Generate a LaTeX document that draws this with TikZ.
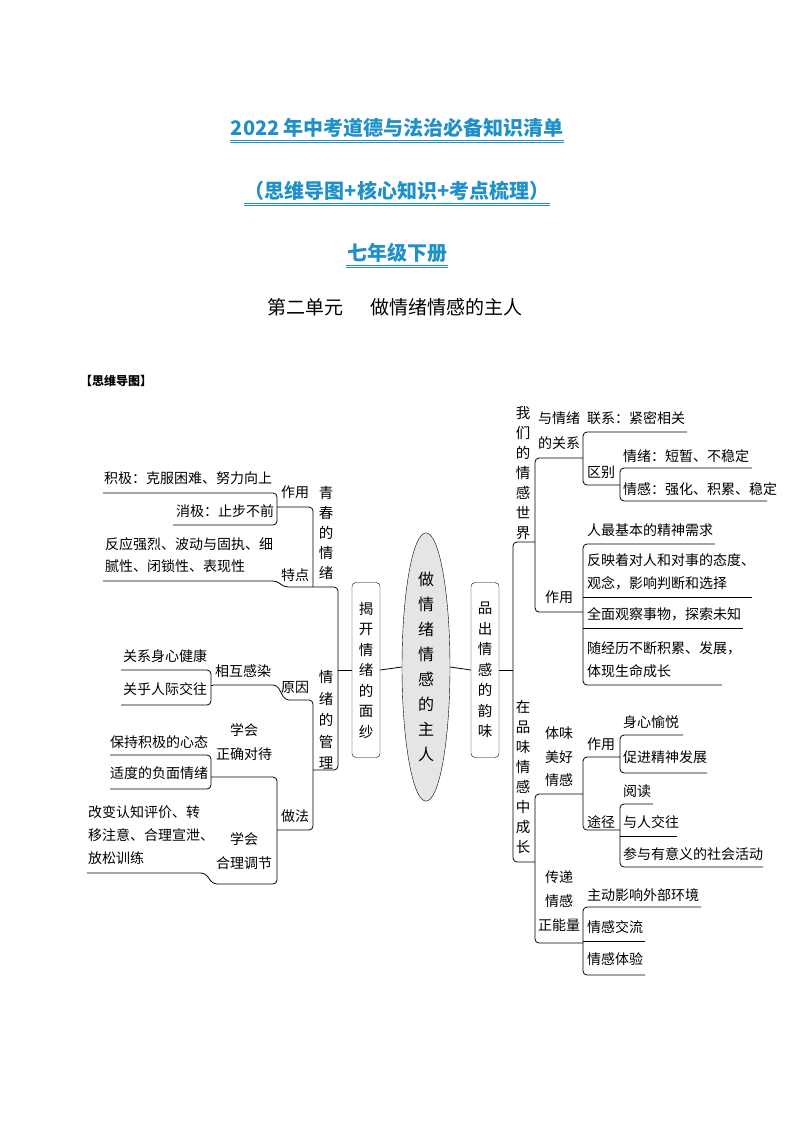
\documentclass[tikz,border=0pt]{standalone}
\usepackage{fontspec}
\setmainfont{Noto Sans CJK SC}
\usetikzlibrary{shapes.geometric}
\definecolor{titleblue}{HTML}{2090C8}
\tikzset{lbl/.style={anchor=west, inner sep=0pt, font=\fontsize{14}{16}\selectfont},
	vtx/.style={align=center, inner sep=0pt, font=\fontsize{14.5}{20}\selectfont},
	box/.style={draw, rounded corners=4pt, minimum width=28pt, minimum height=175pt, align=center, inner sep=0pt, font=\fontsize{14.5}{20.5}\selectfont},
	title/.style={font=\fontsize{20}{22}\selectfont\bfseries, text=titleblue, inner sep=1pt},
	rc/.style={rounded corners=4pt, line width=0.8pt}}
\newcommand{\dul}[1]{\draw[titleblue, line width=0.6pt] ([yshift=-1pt]#1.south west) -- ([yshift=-1pt]#1.south east)
	([yshift=-3pt]#1.south west) -- ([yshift=-3pt]#1.south east);}

\begin{document}
\begin{tikzpicture}[x=1pt, y=-1pt]
	\useasboundingbox (0,0) rectangle (794,1123);
	% headings
	\node[title] (t1) at (397,128) {2022\,年中考道德与法治必备知识清单};
	\node[title] (t2) at (397,191) {（思维导图+核心知识+考点梳理）};
	\node[title] (t3) at (397,253) {七年级下册};
	\dul{t1} \dul{t2} \dul{t3}
	\node[font=\fontsize{19}{20}\selectfont] (t4) at (395,307) {第二单元\hspace{28pt}做情绪情感的主人};
	\node[anchor=west, inner sep=0pt, font=\fontsize{12}{14}\selectfont\bfseries] (mm) at (80,381) {【思维导图】};

	% centre
	\node[draw, ellipse, fill=gray!20, minimum width=48pt, minimum height=262pt, align=center, inner sep=0pt,
		font=\fontsize{16}{25}\selectfont] (ctr) at (426,667) {做\\情\\绪\\情\\感\\的\\主\\人};
	\node[box] (jk) at (366,670) {揭\\开\\情\\绪\\的\\面\\纱};
	\node[box] (pc) at (485,670) {品\\出\\情\\感\\的\\韵\\味};
	\draw[line width=0.8pt] (ctr.west) -- (jk.east) (ctr.east) -- (pc.west);
	\draw[line width=0.8pt] (jk.west) -- (338,670) (pc.east) -- (513,670);

	% left: 揭开情绪的面纱
	\node[vtx] (qc) at (326,533) {青\\春\\的\\情\\绪};
	\node[vtx, font=\fontsize{14.5}{21.5}\selectfont] (gl) at (326,720) {情\\绪\\的\\管\\理};
	\draw[rc] (103,581) -- (277,581) -- (284,587) -- (338,587) -- (338,770) -- (313,770);
	\draw[rc] (277,507) -- (313,507) -- (313,587);
	\draw[rc] (103,493) -- (277,493) -- (277,525) -- (173,525);
	\node[lbl] (zy1) at (281,492) {作用};
	\node[lbl] (jj) at (104,478) {积极：克服困难、努力向上};
	\node[lbl] (xj) at (176,511) {消极：止步不前};
	\node[lbl] (td) at (281,575) {特点};
	\node[lbl] (fy1) at (105,544) {反应强烈、波动与固执、细};
	\node[lbl] (fy2) at (105,566) {腻性、闭锁性、表现性};

	\draw[rc] (213,685) -- (277,685) -- (285,700) -- (313,700) -- (313,830) -- (277,830);
	\draw[rc] (121,670) -- (211,670) -- (211,705) -- (121,705);
	\draw[line width=0.8pt] (211,685) -- (213,685);
	\node[lbl] (yy) at (281,687) {原因};
	\node[lbl] (xh) at (215,671) {相互感染};
	\node[lbl] (gx) at (123,656) {关系身心健康};
	\node[lbl] (gh) at (123,689) {关乎人际交往};
	\draw[rc] (211,777) -- (277,777) -- (277,884) -- (213,884) -- (205,873) -- (87,873);
	\draw[rc] (110,755) -- (211,755) -- (211,789) -- (110,789);
	\node[lbl] (zf) at (281,816) {做法};
	\node[lbl, align=center, anchor=center, font=\fontsize{14}{24}\selectfont] (zq) at (244,742) {学会\\正确对待};
	\node[lbl] (bc) at (110,742) {保持积极的心态};
	\node[lbl] (sd) at (110,773) {适度的负面情绪};
	\node[lbl, align=center, anchor=center, font=\fontsize{14}{24}\selectfont] (hl) at (244,851) {学会\\合理调节};
	\node[lbl] (gb1) at (88,812) {改变认知评价、转};
	\node[lbl] (gb2) at (88,835) {移注意、合理宣泄、};
	\node[lbl] (gb3) at (88,858) {放松训练};

	% right: 品出情感的韵味
	\node[vtx] (sj) at (523,473) {我\\们\\的\\情\\感\\世\\界};
	\node[vtx] (cz) at (523,777) {在\\品\\味\\情\\感\\中\\成\\长};
	\draw[rc] (535,542) -- (513,542) -- (513,862) -- (535,862);
	\draw[rc] (583,458) -- (535,458) -- (535,612) -- (583,612);
	\node[lbl] (gx2a) at (538,418) {与情绪};
	\node[lbl] (gx2b) at (538,443) {的关系};
	\draw[rc] (687,432) -- (583,432) -- (583,485) -- (620,485);
	\node[lbl] (lx) at (587,418) {联系：紧密相关};
	\node[lbl] (qb) at (587,472) {区别};
	\draw[rc] (752,468) -- (620,468) -- (620,501) -- (767,501);
	\node[lbl] (qx) at (623,456) {情绪：短暂、不稳定};
	\node[lbl] (qg) at (623,489) {情感：强化、积累、稳定};
	\node[lbl] (zy2) at (545,597) {作用};
	\draw[rc] (715,544) -- (583,544) -- (583,685) -- (722,685);
	\draw[line width=0.8pt] (583,597) -- (752,597) (583,628) -- (743,628);
	\node[lbl] (jb) at (587,530) {人最基本的精神需求};
	\node[lbl] (fyz1) at (587,560) {反映着对人和对事的态度、};
	\node[lbl] (fyz2) at (587,583) {观念，影响判断和选择};
	\node[lbl] (qm) at (587,614) {全面观察事物，探索未知};
	\node[lbl] (sj1) at (587,648) {随经历不断积累、发展，};
	\node[lbl] (sj2) at (587,671) {体现生命成长};

	\draw[rc] (583,794) -- (535,794) -- (535,943) -- (583,943);
	\node[vtx, font=\fontsize{14}{23.5}\selectfont] (tw) at (559,757) {体味\\美好\\情感};
	\draw[rc] (620,757) -- (583,757) -- (583,830) -- (620,830);
	\node[lbl] (zy3) at (587,744) {作用};
	\draw[rc] (683,735) -- (620,735) -- (620,773) -- (707,773);
	\node[lbl] (sx) at (623,722) {身心愉悦};
	\node[lbl] (cj) at (623,757) {促进精神发展};
	\node[lbl] (tj) at (587,822) {途径};
	\draw[rc] (653,804) -- (620,804) -- (620,867) -- (763,867);
	\draw[line width=0.8pt] (620,836) -- (677,836);
	\node[lbl] (yd) at (623,791) {阅读};
	\node[lbl] (jw) at (623,822) {与人交往};
	\node[lbl] (cy) at (623,854) {参与有意义的社会活动};
	\node[vtx, font=\fontsize{14}{24}\selectfont] (cd) at (559,901) {传递\\情感\\正能量};
	\draw[rc] (701,907) -- (583,907) -- (583,975) -- (645,975);
	\draw[line width=0.8pt] (583,941) -- (645,941);
	\node[lbl] (zd) at (587,895) {主动影响外部环境};
	\node[lbl] (jl) at (587,927) {情感交流};
	\node[lbl] (ty) at (587,959) {情感体验};
\end{tikzpicture}
\end{document}
